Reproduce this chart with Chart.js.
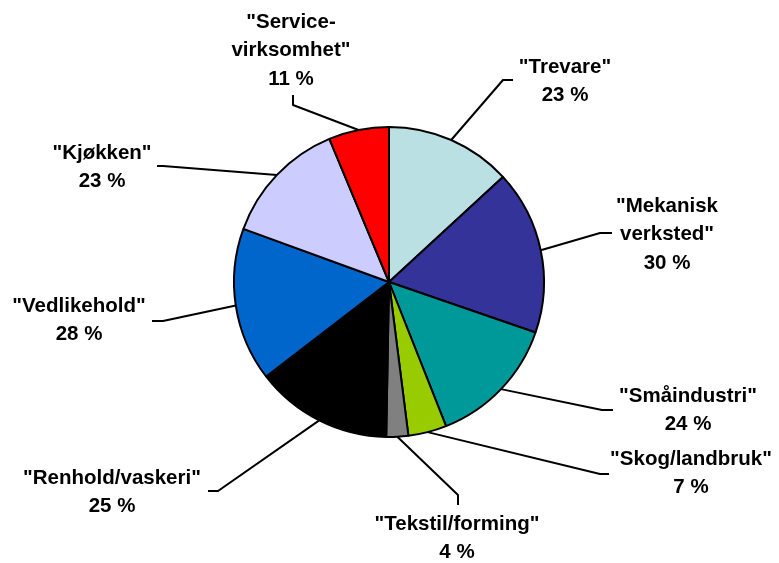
<!DOCTYPE html>
<html>
<head>
<meta charset="utf-8">
<script src="https://cdn.jsdelivr.net/npm/chart.js@4/dist/chart.umd.min.js"></script>
<style>
  html, body { margin: 0; padding: 0; background: #ffffff; }
  #wrap { width: 779px; height: 563px; position: relative; }
</style>
</head>
<body>
<div id="wrap"><canvas id="c" width="779" height="563"></canvas></div>
<script>
// ---- data ----
const categories = ["Trevare", "Mekanisk\nverksted", "Småindustri", "Skog/landbruk", "Tekstil/forming",
                    "Renhold/vaskeri", "Vedlikehold", "Kjøkken", "Service-\nvirksomhet"];
const values = [23, 30, 24, 7, 4, 25, 28, 23, 11];
const sliceColors = ["#bbe0e3", "#333399", "#009999", "#99cc00", "#808080",
                     "#000000", "#0066cc", "#ccccff", "#ff0000"];

// ---- label layout (offsets from pie centre, in px) ----
// text: [centre x offset, first-line y offset]; elbow / end: leader-line bend and end point
const labelLayout = [
  { text: [176, -216], elbow: [114, -202], end: [124, -202] },
  { text: [278, -77],  elbow: [211, -49],  end: [223, -49] },
  { text: [299, 113],  elbow: [213, 128],  end: [224, 128] },
  { text: [302, 176],  elbow: [211, 192],  end: [220, 192] },
  { text: [68, 241],   elbow: [69, 213],   end: [69, 223] },
  { text: [-277, 195], elbow: [-171, 209], end: [-181, 209] },
  { text: [-310, 23],  elbow: [-226, 39],  end: [-237, 39] },
  { text: [-287, -130],elbow: [-226, -116],end: [-232, -116] },
  { text: [-98, -261], elbow: [-96, -177], end: [-96, -187] }
];

const leaderPlugin = {
  id: 'leaders',
  afterDatasetsDraw(chart) {
    const ctx = chart.ctx;
    const meta = chart.getDatasetMeta(0);
    ctx.save();
    meta.data.forEach((arc, i) => {
      const cx = arc.x, cy = arc.y;
      const mid = (arc.startAngle + arc.endAngle) / 2;
      const r = arc.outerRadius;
      const ax = cx + Math.cos(mid) * r;
      const ay = cy + Math.sin(mid) * r;
      const L = labelLayout[i];
      ctx.beginPath();
      ctx.strokeStyle = '#000';
      ctx.lineWidth = 2;
      ctx.lineJoin = 'round';
      ctx.moveTo(ax, ay);
      ctx.lineTo(cx + L.elbow[0], cy + L.elbow[1]);
      ctx.lineTo(cx + L.end[0], cy + L.end[1]);
      ctx.stroke();

      const lines = ('"' + categories[i] + '"').split('\n');
      lines.push(values[i] + ' %');
      ctx.fillStyle = '#000';
      ctx.font = 'bold 20.5px "Liberation Sans", Arial, sans-serif';
      ctx.textAlign = 'center';
      ctx.textBaseline = 'middle';
      lines.forEach((t, k) => {
        ctx.fillText(t, cx + L.text[0], cy + L.text[1] + 1 + k * 28.5);
      });
    });
    ctx.restore();
  }
};

new Chart(document.getElementById('c'), {
  type: 'pie',
  data: {
    labels: categories,
    datasets: [{
      data: values,
      backgroundColor: sliceColors,
      borderColor: '#000000',
      borderWidth: 2,
      borderAlign: 'center'
    }]
  },
  options: {
    responsive: false,
    animation: false,
    radius: 155,
    layout: { padding: { left: 0, right: 1, top: 1, bottom: 0 } },
    plugins: { legend: { display: false }, tooltip: { enabled: false } }
  },
  plugins: [leaderPlugin]
});
</script>
</body>
</html>
